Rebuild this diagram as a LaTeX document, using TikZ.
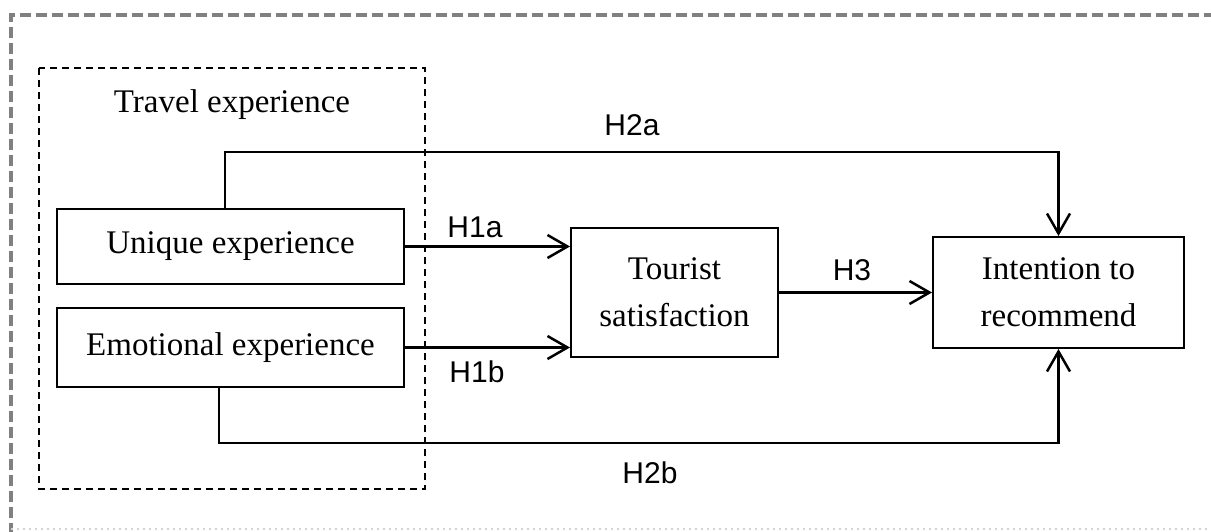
\documentclass[tikz,border=0pt]{standalone}
\usepackage{fontspec}
\setmainfont{Liberation Serif}
\newfontfamily\hypfont{Liberation Sans}
\usetikzlibrary{positioning,calc}
\usetikzlibrary{arrows.meta}
\definecolor{FrameGray}{RGB}{128,128,128}
\tikzset{
	construct/.style={draw=black,line width=1pt,fill=white,inner sep=0pt,align=center,
		font=\fontsize{16.5}{23.5}\selectfont},
	link/.style={draw=black,line width=1.25pt,-{Straight Barb[length=10pt,width=11.5pt,line width=1.25pt]}},
	hyp/.style={font=\hypfont\fontsize{15}{18}\selectfont},
	group/.style={draw=black,line width=0.8pt,dash pattern=on 3.5pt off 2.5pt},
}
\begin{document}
\begin{tikzpicture}[x=0.5pt,y=-0.5pt]
			\useasboundingbox (0,0) rectangle (1211,531);
			% page frame
			\draw[FrameGray,line width=2pt,dash pattern=on 5.5pt off 2.5pt] (1215,15) -- (11,15) -- (11,535);
			\draw[FrameGray!35,line width=1pt,dotted] (11,529) -- (1215,529);
			% travel experience group
			\draw[group] (39,68) rectangle (425,489);
			\node[font=\fontsize{16.5}{20}\selectfont] (travel) at (232,105) {Travel experience};
			% constructs
			\node[construct,minimum width=173.5pt,minimum height=37.5pt] (unique) at (230.5,246.5) {Unique experience};
			\node[construct,minimum width=173.5pt,minimum height=39.5pt] (emotional) at (230.5,347.5) {Emotional experience};
			\node[construct,minimum width=103.5pt,minimum height=64.5pt] (tourist) at (674.5,292.5) {Tourist\\satisfaction};
			\node[construct,minimum width=125.5pt,minimum height=55.5pt] (intention) at (1058.5,292.5) {Intention to\\recommend};
			% paths
			\coordinate (topbend) at (225,152);
			\coordinate (botbend) at (219,443);
			\draw[link] (unique.east) -- (unique.east -| tourist.west);
			\draw[link] (emotional.east) -- (emotional.east -| tourist.west);
			\draw[link] (tourist.east) -- (intention.west);
			\draw[link] (topbend |- unique.north) -- (topbend) -| (intention.north);
			\draw[link] (botbend |- emotional.south) -- (botbend) -| (intention.south);
			% hypotheses
			\node[hyp] (h1a) at (475,227) {H1a};
			\node[hyp] (h1b) at (477,372) {H1b};
			\node[hyp] (h3) at (852,270) {H3};
			\node[hyp] (h2a) at (632,125) {H2a};
			\node[hyp] (h2b) at (650,473) {H2b};
		\end{tikzpicture}
\end{document}
